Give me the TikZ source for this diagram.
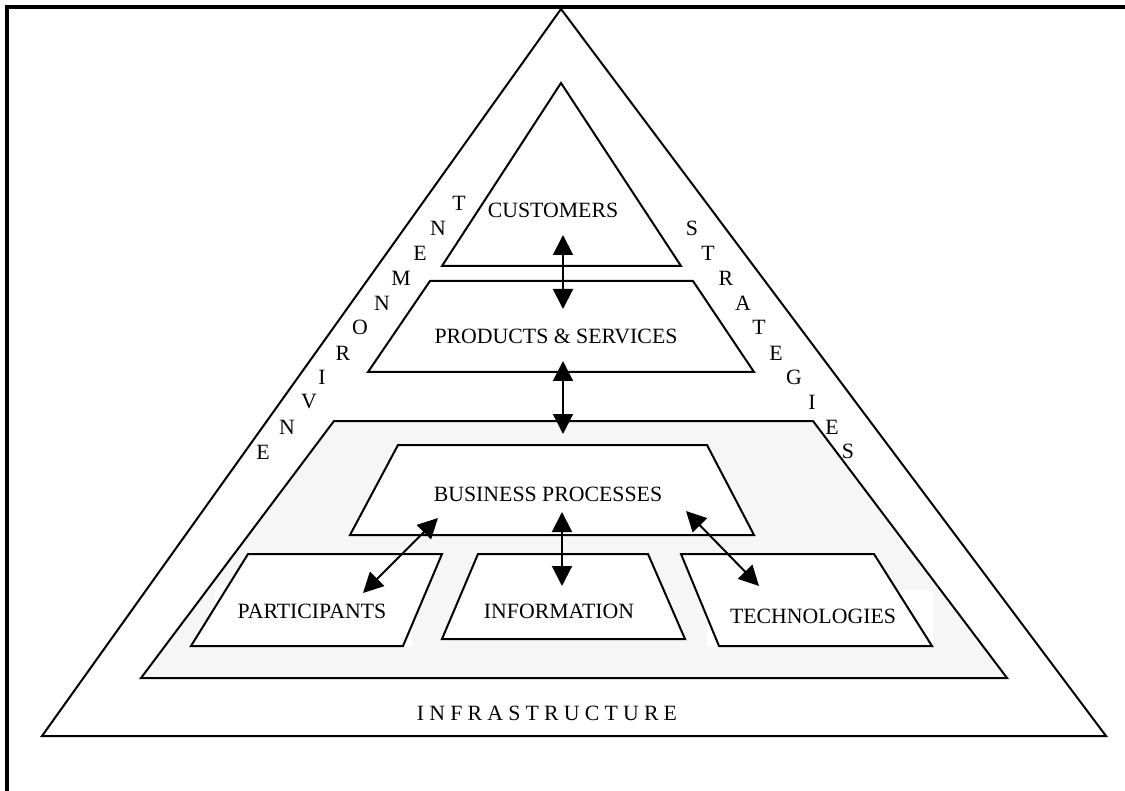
\documentclass[tikz,border=0pt]{standalone}
\usepackage{fontspec}
\setmainfont{Liberation Serif}
\usetikzlibrary{arrows.meta}
\definecolor{bggray}{RGB}{246,246,246}
\begin{document}
\begin{tikzpicture}[x=0.5pt,y=-0.5pt,
  blockshape/.style={draw=black,line width=1pt,fill=white,line join=miter},
  lbl/.style={font=\fontsize{10.9}{13}\selectfont, inner sep=0pt},
  link/.style={line width=1pt,{Triangle[length=10pt,width=10pt]}-{Triangle[length=10pt,width=10pt]}}]
\useasboundingbox (0,0) rectangle (1125,791);
% frame
\draw[line width=2pt] (7,791) -- (7,7) -- (1125,7);
% outer triangle
\draw[blockshape] (561,9) -- (1106,736) -- (42,736) -- cycle;
\draw[line width=1.4pt] (512,736) -- (636,736);
% customers
\draw[blockshape] (561,83) -- (681,266) -- (442,266) -- cycle;
% products
\draw[blockshape] (430,281) -- (693,281) -- (754,372) -- (368,372) -- cycle;
% gray area
\draw[blockshape,fill=bggray] (334,421) -- (813,421) -- (1007,678) -- (141,678) -- cycle;
% white boxes behind labels
\fill[white] (215,585) rectangle (412,646);
\fill[white] (463,585) rectangle (655,639);
\fill[white] (707,590) rectangle (933,646);
% business processes
\draw[blockshape] (398,445) -- (707,445) -- (754,535) -- (350,535) -- cycle;
% participants
\draw[blockshape] (248,554) -- (442,554) -- (403,646) -- (191,646) -- cycle;
% information
\draw[blockshape] (478,554) -- (648,554) -- (685,639) -- (442,639) -- cycle;
% technologies
\draw[blockshape] (681,554) -- (874,554) -- (932,646) -- (719,646) -- cycle;

% labels
\node[lbl] (cust) at (553,210) {CUSTOMERS};
\node[lbl] (prod) at (556,336) {PRODUCTS \& SERVICES};
\node[lbl] (bp) at (548,494) {BUSINESS PROCESSES};
\node[lbl] (part) at (312,611) {PARTICIPANTS};
\node[lbl] (info) at (559,611) {INFORMATION};
\node[lbl] (tech) at (813,616) {TECHNOLOGIES};
\node[lbl] (infra) at (547,713) {I\hspace{2.6pt}N\hspace{2.6pt}F\hspace{2.6pt}R\hspace{2.6pt}A\hspace{2.6pt}S\hspace{2.6pt}T\hspace{2.6pt}R\hspace{2.6pt}U\hspace{2.6pt}C\hspace{2.6pt}T\hspace{2.6pt}U\hspace{2.6pt}R\hspace{2.6pt}E};

% ENVIRONMENT letters
\foreach \ch/\px/\py [count=\i] in {E/263/452, N/287/427, V/309/402, I/322/377, R/343/353, O/360/327, N/382/303, M/401/278, E/420/253, N/438/228, T/459/203}
  \node[lbl] (env\i) at (\px,\py) {\ch};
% STRATEGIES letters
\foreach \ch/\px/\py [count=\i] in {S/692/228, T/708/253, R/726/278, A/743/303, T/759/327, E/776/353, G/794/377, I/812/402, E/832/427, S/848/451}
  \node[lbl] (str\i) at (\px,\py) {\ch};

% connector end points
\coordinate (a1) at (563,235);
\coordinate (a2) at (563,309);
\coordinate (b1) at (563,361);
\coordinate (b2) at (563,434);
\coordinate (c1) at (562,512);
\coordinate (c2) at (562,586);
\coordinate (d1) at (438,518);
\coordinate (d2) at (363,593);
\coordinate (e1) at (686,511);
\coordinate (e2) at (759,586);

\draw[link] (a1) -- (a2);
\draw[link] (b1) -- (b2);
\draw[link] (c1) -- (c2);
\draw[link] (d1) -- (d2);
\draw[link] (e1) -- (e2);
\end{tikzpicture}
\end{document}
